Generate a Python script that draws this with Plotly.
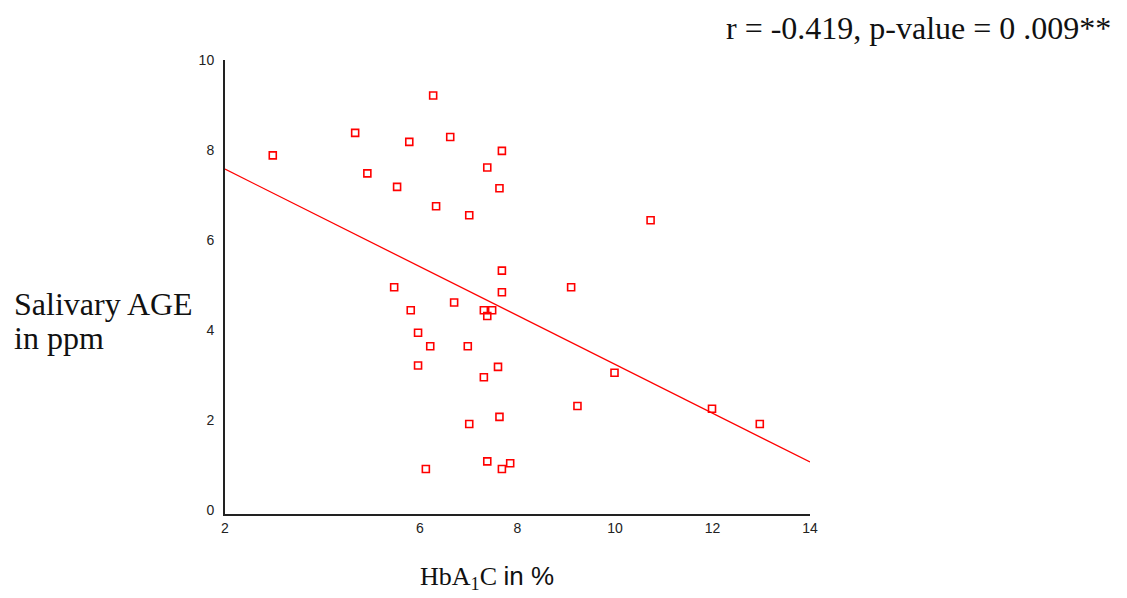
import numpy as np
import plotly.graph_objects as go

hba1c = [2.98, 4.67, 6.27, 5.78, 6.62, 7.68, 4.92, 7.38, 5.53, 7.63, 6.33, 7.01, 7.68,
         5.47, 7.68, 6.70, 5.81, 7.31, 7.48, 7.38, 5.96, 6.21, 6.98, 5.96, 7.60, 7.31,
         7.63, 7.01, 6.12, 7.38, 7.68, 7.85,
         10.73, 9.10, 9.99, 9.23, 11.99, 12.97]
age_ppm = [7.88, 8.38, 9.21, 8.18, 8.29, 7.98, 7.48, 7.61, 7.18, 7.15, 6.75, 6.55, 5.32,
           4.95, 4.84, 4.61, 4.44, 4.44, 4.44, 4.31, 3.94, 3.64, 3.64, 3.21, 3.18, 2.95,
           2.07, 1.91, 0.91, 1.08, 0.91, 1.04,
           6.44, 4.95, 3.05, 2.31, 2.25, 1.91]
x_ticks = [2, 6, 8, 10, 12, 14]
y_ticks = [0, 2, 4, 6, 8, 10]
fit_range = [2, 14]

slope, intercept = np.polyfit(hba1c, age_ppm, 1)
fit_x = np.array(fit_range, dtype=float)
fit_y = intercept + slope * fit_x

serif = "Liberation Serif, Times New Roman, serif"
sans = "Liberation Sans, Arial, sans-serif"

fig = go.Figure()
fig.add_trace(go.Scatter(x=fit_x, y=fit_y, mode="lines",
                         line=dict(color="#ff0000", width=1.3), hoverinfo="skip"))
fig.add_trace(go.Scatter(x=hba1c, y=age_ppm, mode="markers",
                         marker=dict(symbol="square-open", size=7, color="#ff0000",
                                     line=dict(width=1.6, color="#ff0000"))))

fig.update_layout(
    width=1127, height=598,
    margin=dict(l=225, r=317, t=60, b=84),
    paper_bgcolor="white", plot_bgcolor="white",
    showlegend=False,
    font=dict(family=sans, size=14, color="#222"),
    xaxis=dict(range=[2, 14], tickvals=x_ticks, showgrid=False, zeroline=False,
               showline=True, linecolor="#222", linewidth=2, ticks="",
               ticklabelstandoff=0,
               tickfont=dict(family=sans, size=14, color="#222")),
    yaxis=dict(range=[-0.089, 10], tickvals=y_ticks, showgrid=False, zeroline=False,
               showline=True, linecolor="#222", linewidth=2, ticks="",
               ticklabelstandoff=6,
               tickfont=dict(family=sans, size=14, color="#222")),
    annotations=[
        dict(text="Salivary AGE", xref="paper", yref="paper",
             x=-0.364, y=0.4626, xanchor="left", yanchor="middle", align="left",
             showarrow=False, font=dict(family=serif, size=32, color="#111")),
        dict(text="in ppm", xref="paper", yref="paper",
             x=-0.364, y=0.3877, xanchor="left", yanchor="middle", align="left",
             showarrow=False, font=dict(family=serif, size=32, color="#111")),
        dict(text=f"HbA<sub>1</sub>C <span style='font-family:{sans}'>in %</span>",
             xref="paper", yref="paper", x=0.33, y=-0.139, xanchor="left",
             yanchor="middle", showarrow=False,
             font=dict(family=serif, size=26, color="#111")),
        dict(text="r = -0.419, p-value = 0 .009**", xref="paper", yref="paper",
             x=1.518, y=1.0705, xanchor="right", yanchor="middle", showarrow=False,
             font=dict(family=serif, size=32, color="#111")),
    ],
)

fig.write_html("out.html")
